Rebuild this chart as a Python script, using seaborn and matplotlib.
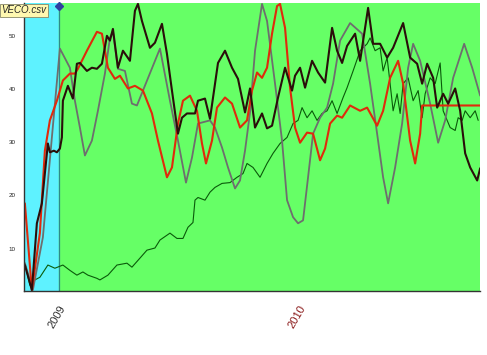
import matplotlib
matplotlib.use("Agg")
import matplotlib.pyplot as plt
import seaborn as sns
import pandas as pd
from matplotlib.ticker import FixedLocator

# x values are months counted from Jan 2009
price_x = [-1.70, -1.35, -1.10, -0.85, -0.55, -0.45, -0.25, -0.10, 0.05, 0.15, 0.20, 0.45, 0.70, 0.90,
           1.05, 1.40, 1.65, 1.90, 2.15, 2.40, 2.55, 2.70, 2.95, 3.20, 3.55, 3.80, 3.95, 4.15, 4.55,
           4.80, 5.15, 5.40, 5.65, 5.95, 6.15, 6.40, 6.80, 6.95, 7.30, 7.55, 7.95, 8.30, 8.65, 8.95,
           9.30, 9.55, 9.80, 10.15, 10.40, 10.65, 10.95, 11.30, 11.65, 11.80, 12.05, 12.30, 12.65,
           12.95, 13.30, 13.65, 13.90, 14.15, 14.40, 14.80, 15.05, 15.45, 15.70, 16.05, 16.40, 16.70,
           17.20, 17.55, 17.90, 18.15, 18.40, 18.70, 18.90, 19.20, 19.45, 19.80, 20.05, 20.30, 20.55,
           20.90, 21.05]
price_y = [6.9, 2.2, 14.75, 18.5, 29.75, 28.1, 28.4, 28.1, 28.8, 30.9, 37.8, 40.6, 38.2, 44.75,
           44.9, 43.4, 44.0, 43.8, 44.75, 50.0, 49.1, 51.3, 44.0, 47.2, 45.3, 54.7, 56.0, 52.8, 47.75,
           48.7, 52.25, 46.6, 39.7, 31.6, 34.6, 35.4, 35.4, 37.8, 38.2, 34.4, 44.9, 47.2, 44.0, 41.9,
           35.6, 40.1, 32.75, 35.4, 32.6, 33.1, 38.4, 44.0, 39.7, 42.5, 44.0, 40.25, 45.3,
           43.1, 41.2, 51.5, 47.2, 44.9, 48.1, 50.4, 45.3, 55.25, 48.5, 48.5, 45.9, 47.75,
           52.4, 45.9, 44.75, 41.0, 44.75, 42.1, 36.5, 39.1, 37.25, 40.1, 35.9, 27.9, 25.25,
           22.8, 25.1]

red_x = [-1.70, -1.35, -0.95, -0.70, -0.45, -0.10, 0.20, 0.55, 0.80, 0.95, 1.40, 1.90, 2.15, 2.45,
         2.80, 3.05, 3.45, 3.80, 4.20, 4.65, 4.95, 5.40, 5.65, 5.95, 6.20, 6.55, 6.90, 7.15, 7.35,
         7.65, 7.90, 8.30, 8.65, 9.05, 9.40, 9.65, 9.90, 10.15, 10.40, 10.65, 10.90, 11.05, 11.30,
         11.55, 11.80, 12.05, 12.40, 12.70, 13.05, 13.30, 13.55, 13.90, 14.15, 14.55, 15.05, 15.40,
         15.90, 16.20, 16.55, 16.95, 17.20, 17.55, 17.80, 18.05, 18.15, 21.05]
red_y = [18.5, 2.2, 12.9, 28.4, 34.1, 37.8, 41.6, 42.9, 42.9, 43.8, 47.2, 50.75, 50.4, 44.0,
         41.9, 42.5, 40.1, 40.6, 39.7, 35.4, 30.3, 23.4, 25.25, 33.5, 37.8, 38.75, 35.9, 29.75, 26.0,
         30.3, 36.5, 38.4, 37.25, 32.75, 34.1, 39.7, 43.1, 42.1, 44.0, 50.4, 55.6, 56.0, 51.5,
         40.25, 32.75, 29.9, 31.8, 31.6, 26.6, 28.8, 33.5, 35.0, 34.6, 36.9, 35.9, 36.5,
         33.1, 35.9, 42.1, 45.3, 41.0, 30.3, 26.0, 31.6, 36.9, 36.9]

gray_x = [-1.70, -1.30, -0.80, 0.05, 0.55, 0.80, 1.05, 1.30, 1.65, 1.95, 2.30, 2.55, 2.70, 2.95,
          3.30, 3.65, 3.90, 4.20, 5.05, 5.55, 5.95, 6.35, 6.65, 6.95, 7.55, 7.80, 8.15, 8.45, 8.80,
          9.05, 9.30, 9.55, 9.80, 10.15, 10.40, 10.80, 11.15, 11.40, 11.70, 11.95, 12.20, 12.45,
          12.70, 13.05, 13.40, 13.70, 14.05, 14.55, 15.15, 15.55, 15.90, 16.20, 16.45, 16.80, 17.15,
          17.45, 17.70, 18.05, 18.55, 18.95, 19.30, 19.70, 20.25, 20.65, 21.05]
gray_y = [7.25, 2.2, 12.1, 47.6, 44.0, 37.8, 32.75, 27.5, 30.3, 35.9, 42.9, 49.6, 50.9, 43.8,
          43.4, 37.25, 36.9, 39.7, 47.6, 37.8, 30.3, 22.4, 27.1, 33.5, 34.1, 32.75, 29.0, 25.25, 21.3,
          22.8, 28.4, 35.6, 47.2, 56.0, 52.8, 41.0, 30.3, 19.1, 15.9, 14.75, 15.3, 23.4,
          31.6, 34.6, 36.5, 41.0, 49.1, 52.4, 50.4, 41.0, 31.6, 23.4, 18.5, 25.25, 33.5,
          44.0, 48.5, 45.3, 37.25, 29.9, 34.1, 42.1, 48.5, 44.0, 38.75]

green_x = [-1.70, -1.45, -1.20, -0.95, -0.55, -0.20, 0.20, 0.55, 0.90, 1.20, 1.45, 1.90, 2.05, 2.45,
           2.90, 3.40, 3.65, 4.05, 4.40, 4.80, 5.05, 5.55, 5.90, 6.20, 6.45, 6.70, 6.80, 6.95, 7.30,
           7.55, 7.80, 8.15, 8.55, 8.90, 9.20, 9.40, 9.70, 10.05, 10.40, 10.70, 11.05, 11.40, 11.70,
           11.95, 12.15, 12.40, 12.65, 12.90, 13.15, 13.40, 13.65, 13.90, 14.20, 14.40, 14.70, 15.05,
           15.40, 15.55, 15.80, 16.05, 16.20, 16.40, 16.55, 16.70, 16.90, 17.05, 17.20, 17.45, 17.70,
           17.95, 18.15, 18.30, 18.55, 18.80, 19.05, 19.20, 19.40, 19.55, 19.80, 19.95, 20.15, 20.30,
           20.55, 20.80, 20.95]
green_y = [7.25, 3.1, 4.1, 4.6, 6.9, 6.3, 6.9, 5.9, 5.0, 5.6, 5.0, 4.4, 4.1, 5.0,
           6.9, 7.25, 6.5, 8.2, 9.7, 10.1, 11.6, 12.9, 11.9, 11.9, 14.0, 14.9, 19.1, 19.6, 19.1,
           20.6, 21.5, 22.25, 22.4, 23.4, 24.1, 26.0, 25.25, 23.4, 26.0, 27.9, 29.75, 30.9, 33.5,
           34.1, 36.5, 34.6, 35.9, 34.1, 35.4, 35.9, 37.8, 35.4, 38.4, 40.25, 43.4, 47.2,
           48.5, 49.6, 47.2, 47.75, 43.4, 45.9, 41.0, 35.9, 39.1, 35.4, 41.0, 42.1, 37.8,
           39.7, 34.6, 39.1, 42.1, 41.0, 44.9, 35.9, 34.1, 32.75, 32.2, 34.6, 34.1, 35.9,
           34.6, 35.9, 34.1]

year_ticks = [0, 12]
year_labels = ["2009", "2010"]
month_ticks = list(range(-1, 22))

sns.set_style("white")
plt.rcParams["font.family"] = ["Liberation Sans", "DejaVu Sans"]

fig = plt.figure(figsize=(4.87, 3.55), dpi=100)
ax = fig.add_axes([0.049, 0.180, 0.937, 0.812])

x_min, x_max = -1.75, 21.05
ax.axvspan(x_min, 0, color="#5ef2ff", zorder=0)
ax.axvspan(0, x_max, color="#66ff66", zorder=0)
ax.axvline(0, color="#2e8b8b", lw=0.9, zorder=1)

sns.lineplot(x=green_x, y=green_y, ax=ax, color="#0a5a0a", lw=0.8, sort=False)
sns.lineplot(x=gray_x, y=gray_y, ax=ax, color="#6e6e6e", lw=1.3, sort=False)
sns.lineplot(x=red_x, y=red_y, ax=ax, color="#e02a0c", lw=1.5, sort=False)
sns.lineplot(x=price_x, y=price_y, ax=ax, color="#2a0e0a", lw=1.5, sort=False)

ax.plot([0], [55.6], marker="D", ms=4, color="#3040a0", clip_on=False, zorder=5)

ax.set_xlim(x_min, x_max)
ax.set_ylim(2, 56.2)
ax.set_yticks([10, 20, 30, 40, 50])
ax.tick_params(axis="y", labelsize=4.5, length=0, pad=6, labelcolor="#222222")

ax.xaxis.set_major_locator(FixedLocator(year_ticks))
ax.set_xticklabels(year_labels, rotation=60, ha="right", rotation_mode="anchor", fontsize=8)
ax.xaxis.set_minor_locator(FixedLocator(month_ticks))
ax.tick_params(axis="x", which="major", length=8, width=0.8, color="#d03030", pad=1)
ax.tick_params(axis="x", which="minor", length=3, width=0.8, color="#333333")
tl = ax.get_xticklabels()
tl[0].set_color("#333333")
tl[1].set_color("#8b1a1a")

for side in ["top", "right"]:
    ax.spines[side].set_visible(False)
ax.spines["left"].set_color("#333333")
ax.spines["bottom"].set_color("#333333")
ax.spines["left"].set_linewidth(1.0)
ax.spines["bottom"].set_linewidth(1.0)
ax.set_xlabel("")
ax.set_ylabel("")

fig.text(0.003, 0.985, "VECO.csv", fontsize=7, style="italic", va="top", ha="left",
         bbox=dict(boxstyle="square,pad=0.15", fc="#fff8b0", ec="#888866", lw=0.6))

fig.savefig("out.png", dpi=100)
